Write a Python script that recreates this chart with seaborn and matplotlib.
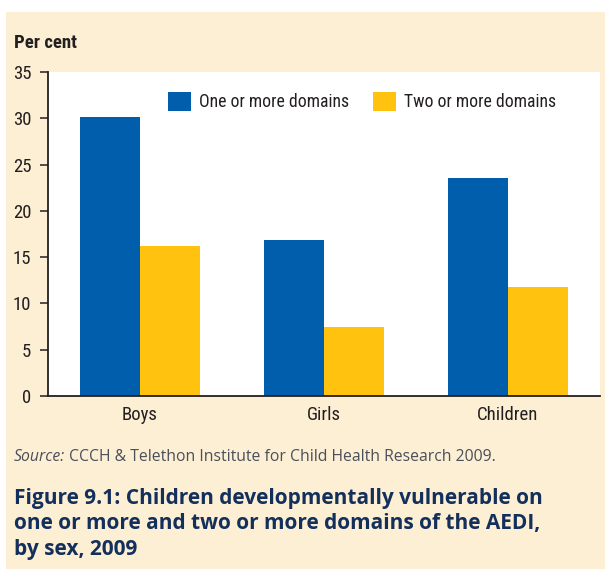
import matplotlib
matplotlib.use("Agg")
import matplotlib.pyplot as plt
from matplotlib import font_manager
from matplotlib.patches import Rectangle
import pandas as pd
import seaborn as sns

# Values (per cent)
categories = ["Boys", "Girls", "Children"]
series_names = ["One or more domains", "Two or more domains"]
one_or_more = [30.1, 16.8, 23.6]
two_or_more = [16.2, 7.4, 11.8]
y_ticks = [0, 5, 10, 15, 20, 25, 30, 35]

source_text = "CCCH & Telethon Institute for Child Health Research 2009."
title_text = ("Figure 9.1: Children developmentally vulnerable on\n"
              "one or more and two or more domains of the AEDI,\n"
              "by sex, 2009")

BLUE = "#005EAD"
YELLOW = "#FFC20F"
CREAM = "#FDEFD3"
INK = "#231F20"
NAVY = "#132F5C"

sns.set_theme(style="white")

installed = {f.name for f in font_manager.fontManager.ttflist}
narrow = next((f for f in ["Liberation Sans Narrow", "DejaVu Sans Condensed",
                           "Roboto Condensed", "Liberation Sans"] if f in installed),
              "DejaVu Sans")
plt.rcParams["font.family"] = [narrow, "DejaVu Sans"]

df = pd.DataFrame({
    "category": categories * 2,
    "series": [series_names[0]] * 3 + [series_names[1]] * 3,
    "value": one_or_more + two_or_more,
})

W, H = 605, 569
fig = plt.figure(figsize=(W / 100, H / 100), dpi=100)
fig.patch.set_facecolor("white")
fig.patches.append(Rectangle((6 / W, 0), (W - 6) / W, (H - 12) / H,
                             transform=fig.transFigure, facecolor=CREAM,
                             edgecolor="none", zorder=-10))

ax = fig.add_axes([48 / W, 1 - 396 / H, (600 - 48) / W, (396 - 72) / H])
ax.set_facecolor("white")

sns.barplot(data=df, x="category", y="value", hue="series",
            palette=[BLUE, YELLOW], width=0.652, saturation=1,
            linewidth=0, edgecolor="none", ax=ax, legend=True)

ax.set_ylim(0, 35)
ax.set_xlim(-0.5, 2.5)
ax.set_yticks(y_ticks)
ax.set_xlabel("")
ax.set_ylabel("")
for s in ["top", "right"]:
    ax.spines[s].set_visible(False)
for s in ["left", "bottom"]:
    ax.spines[s].set_color(INK)
    ax.spines[s].set_linewidth(1.3)
ax.spines["bottom"].set_zorder(5)
ax.tick_params(axis="y", which="major", left=True, length=6, width=1.1,
               color=INK, pad=6, labelsize=13.5, labelcolor=INK)
ax.tick_params(axis="x", length=0, pad=7, labelsize=13.5, labelcolor=INK)

handles, labels = ax.get_legend_handles_labels()
ax.legend(handles, labels, ncol=2, frameon=False, loc="center left",
          bbox_to_anchor=(168 / W, 1 - 101.5 / H), bbox_transform=fig.transFigure,
          borderpad=0, borderaxespad=0, fontsize=12.7, handlelength=1.3,
          handleheight=1.3, handletextpad=0.45, columnspacing=1.35,
          labelcolor=INK)

fig.text(14 / W, 1 - 43 / H, "Per cent", fontsize=13.5, fontweight="bold",
         color=INK, ha="left", va="center")

src = fig.text(14 / W, 1 - 457 / H, "Source:", fontsize=11.3, style="italic",
               color="#4A4F5C", ha="left", va="center",
               family=["Open Sans", "DejaVu Sans"])
fig.canvas.draw()
bb = src.get_window_extent()
fig.text((bb.x1 + 4) / W, 1 - 457 / H, source_text, fontsize=11.3,
         color="#4A4F5C", ha="left", va="center",
         family=["Open Sans", "DejaVu Sans"])

fig.text(14 / W, 1 - 524 / H, title_text, fontsize=15.0, fontweight="bold",
         color=NAVY, ha="left", va="center", linespacing=1.3,
         family=["Open Sans", "DejaVu Sans"])

fig.savefig("out.png", dpi=100, facecolor=fig.get_facecolor())
